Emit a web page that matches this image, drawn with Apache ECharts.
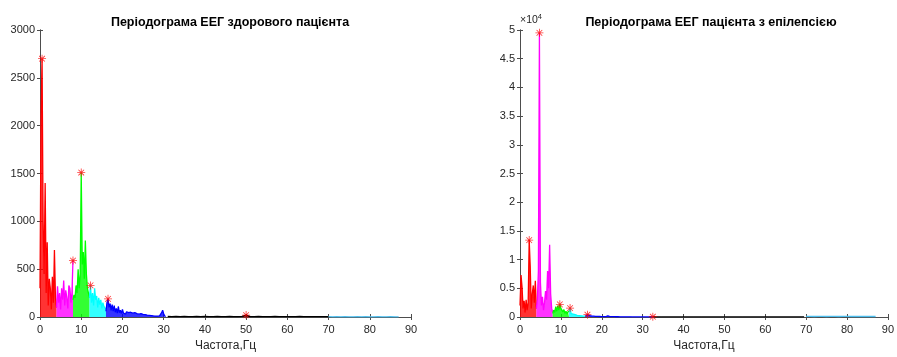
<!DOCTYPE html>
<html>
<head>
<meta charset="utf-8">
<script src="https://cdn.jsdelivr.net/npm/echarts@6/dist/echarts.min.js"></script>
<style>
  html, body { margin: 0; padding: 0; background: #fff; }
  #chart { width: 897px; height: 357px; }
</style>
</head>
<body>
<div id="chart"></div>
<script>
// frequency grid of the periodogram samples (Hz)
const STEP = 0.25;
const xTicks = [0, 10, 20, 30, 40, 50, 60, 70, 80, 90];

// healthy patient, band by band
const hDelta = [300, 2100, 2700, 1000, 450, 1400, 250, 780, 120, 400, 300, 80, 420, 150, 700, 200, 100];          // 0-4 Hz
const hTheta = [100, 320, 150, 250, 80, 300, 180, 380, 120, 280, 200, 90, 330, 300, 150, 250, 590];                // 4-8 Hz
const hAlpha = [180, 230, 200, 330, 250, 500, 300, 450, 1510, 550, 680, 400, 800, 450, 300, 250, 200];            // 8-12 Hz
const hBeta1 = [200, 330, 150, 250, 120, 300, 180, 220, 100, 200, 130, 180, 90, 150, 110, 130, 80];                // 12-16 Hz
const hBeta2 = [60, 150, 190, 100, 140, 70, 130, 60, 120, 50, 90, 40, 110, 45, 70, 35, 80, 40, 60, 30,
  55, 35, 45, 25, 50, 30, 40, 20, 45, 25, 35, 20, 30, 15, 35, 18, 28, 12, 25, 15,
  20, 10, 18, 12, 15, 8, 12, 8, 10, 6, 10, 8, 12, 20, 45, 70, 35, 10, 5];                                          // 16-30.5 Hz
const hRest = [5, 4, 6, 3, 5, 4, 3, 5, 4, 6, 3, 4, 5, 3, 4, 5, 3, 4, 6, 20, 4, 3, 5, 4, 3, 4, 5, 3, 4, 3,
  4, 3, 5, 3, 4, 3, 4, 3, 4, 3];                                                                                   // 31-70 Hz
const hTail = [3, 2, 3, 2, 3, 2, 2, 3, 2, 3, 2, 2, 3, 2, 2, 3, 2, 2];                                              // 70-87 Hz
const hPeakF = [0.5, 8, 10, 12.25, 16.5, 50];
const hPeakV = [2700, 590, 1510, 330, 190, 20];

// patient with epilepsy
const eDelta = [2000, 7300, 5200, 1500, 2800, 800, 3000, 1200, 2500, 13400, 8800, 1500, 4000, 5500, 2500, 6300, 1500];
const eTheta = [1500, 3000, 8000, 49500, 6000, 2000, 3500, 1200, 2500, 4500, 3000, 8000, 5000, 12600, 4000, 1500, 800];
const eAlpha = [600, 1200, 800, 1800, 1000, 2000, 1200, 2200, 1500, 1800, 900, 1300, 600, 1000, 500, 900, 1000];
const eBeta1 = [1000, 1550, 600, 900, 500, 800, 400, 600, 300, 500, 250, 400, 200, 300, 150, 250, 150];
const eBeta2 = [150, 300, 400, 200, 250, 120, 180, 100, 150, 80, 120, 70, 100, 60, 90, 50, 80, 60, 70, 50,
  80, 150, 200, 120, 70, 50, 60, 40, 50, 35, 45, 30, 40, 30, 35, 25, 30, 25, 30, 20,
  28, 20, 25, 18, 22, 18, 20, 15, 20, 15, 18, 15, 18, 14, 16, 14, 15, 12, 15, 12,
  14, 12, 13, 12, 50, 15, 12];                                                                                     // 16-32.5 Hz
const eRest = [50, 15, 12, 14, 10, 12, 10, 11, 9, 10, 9, 10, 8, 9, 8, 9, 8, 8, 9, 8, 7, 8, 7, 8, 7, 7, 8, 7,
  6, 7, 6, 7, 6, 6, 7, 6, 6, 6];                                                                                   // 32.5-69.5 Hz
const eTail = [100, 120, 90, 110, 100, 90, 110, 100, 90, 100, 110, 90, 100, 90, 100, 90, 100, 90];                // 70-87 Hz
const ePeakF = [2.25, 4.75, 9.75, 12.25, 16.5, 32.5];
const ePeakV = [13400, 49500, 2200, 1550, 400, 50];

const bandColors = ['#ff0000', '#ff00ff', '#00ff00', '#00ffff', '#0000ff', '#000000', '#4dbeee'];

function pairs(start, step, values) {
  return values.map(function (v, i) { return [start + i * step, v]; });
}

const asterisk = 'path://M4.5 0L5.5 0L5.5 10L4.5 10Z M0 4.5L10 4.5L10 5.5L0 5.5Z ' +
  'M1.1 1.8L1.8 1.1L8.9 8.2L8.2 8.9Z M8.2 1.1L8.9 1.8L1.8 8.9L1.1 8.2Z';

function bandSeries(idx, bands, peakF, peakV) {
  const out = bands.map(function (b, k) {
    return {
      type: 'line',
      xAxisIndex: idx * 2, yAxisIndex: idx * 2,
      data: pairs(b[0], b[1], b[2]),
      showSymbol: false, silent: true,
      lineStyle: { color: bandColors[k], width: 1.3 },
      areaStyle: { color: bandColors[k], opacity: 0.8 },
      z: 2
    };
  });
  out.push({
    type: 'scatter',
    xAxisIndex: idx * 2, yAxisIndex: idx * 2,
    data: peakF.map(function (f, i) { return [f, peakV[i]]; }),
    symbol: asterisk, symbolSize: 8,
    itemStyle: { color: '#ff0000' },
    z: 5
  });
  return out;
}

const healthyBands = [[0, STEP, hDelta], [4, STEP, hTheta], [8, STEP, hAlpha], [12, STEP, hBeta1],
  [16, STEP, hBeta2], [31, 1, hRest], [70, 1, hTail]];
const epiBands = [[0, STEP, eDelta], [4, STEP, eTheta], [8, STEP, eAlpha], [12, STEP, eBeta1],
  [16, STEP, eBeta2], [32.5, 1, eRest], [70, 1, eTail]];

const lineColor = '#4d4d4d';
const labelColor = '#262626';
const font = 'Liberation Sans, Arial, sans-serif';

function xAxes(grid) {
  return [{
    type: 'value', gridIndex: grid, min: 0, max: 90, interval: 10,
    name: 'Частота,Гц', nameLocation: 'middle', nameGap: 23,
    nameTextStyle: { color: labelColor, fontSize: 12, fontFamily: font },
    axisLine: { show: true, lineStyle: { color: lineColor } },
    axisTick: { inside: true, length: 3, lineStyle: { color: lineColor } },
    axisLabel: { color: labelColor, fontSize: 11, fontFamily: font, margin: 7 },
    splitLine: { show: false }
  }, {
    type: 'value', gridIndex: grid, min: 0, max: 90, interval: 10, position: 'top',
    axisLine: { show: true, lineStyle: { color: lineColor } },
    axisTick: { inside: true, length: 3, lineStyle: { color: lineColor } },
    axisLabel: { show: false }, splitLine: { show: false }
  }];
}

function yAxes(grid, max, interval, fmt, name) {
  return [{
    type: 'value', gridIndex: grid, min: 0, max: max, interval: interval,
    name: name, nameLocation: 'end', nameGap: 3,
    nameTextStyle: {
      align: 'left', padding: [0, 0, 0, 0],
      rich: {
        a: { fontSize: 10.5, color: labelColor, fontFamily: font },
        b: { fontSize: 7.5, color: labelColor, fontFamily: font, verticalAlign: 'top', padding: [0, 0, 6, 0] }
      }
    },
    axisLine: { show: true, lineStyle: { color: lineColor } },
    axisTick: { show: true, inside: true, length: 3, lineStyle: { color: lineColor } },
    axisLabel: { color: labelColor, fontSize: 11, fontFamily: font, margin: 5, formatter: fmt },
    splitLine: { show: false }
  }, {
    type: 'value', gridIndex: grid, min: 0, max: max, interval: interval, position: 'right',
    axisLine: { show: true, lineStyle: { color: lineColor } },
    axisTick: { show: true, inside: true, length: 3, lineStyle: { color: lineColor } },
    axisLabel: { show: false }, splitLine: { show: false }
  }];
}

const chart = echarts.init(document.getElementById('chart'));
chart.setOption({
  animation: false,
  backgroundColor: '#ffffff',
  title: [{
    text: 'Періодограма ЕЕГ здорового пацієнта', left: 225, top: 11, textAlign: 'center',
    textStyle: { fontSize: 12.5, fontWeight: 'bold', color: '#000', fontFamily: font }
  }, {
    text: 'Періодограма ЕЕГ пацієнта з епілепсією', left: 706, top: 11, textAlign: 'center',
    textStyle: { fontSize: 12.5, fontWeight: 'bold', color: '#000', fontFamily: font }
  }],
  grid: [
    { left: 40, top: 30, width: 371, height: 293 },
    { left: 520, top: 30, width: 372, height: 293 }
  ],
  xAxis: xAxes(0).concat(xAxes(1)),
  yAxis: yAxes(0, 3000, 500, function (v) { return String(v); }, '').concat(
    yAxes(1, 50000, 5000, function (v) { return String(v / 10000); }, '{a|×10}{b|4}')),
  series: bandSeries(0, healthyBands, hPeakF, hPeakV).concat(bandSeries(1, epiBands, ePeakF, ePeakV))
});
</script>
</body>
</html>
